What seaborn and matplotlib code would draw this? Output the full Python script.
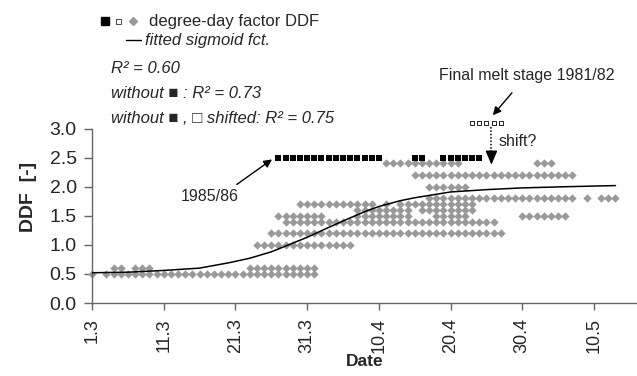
import matplotlib
matplotlib.use("Agg")
import matplotlib.pyplot as plt
import seaborn as sns
import pandas as pd
from matplotlib.lines import Line2D

# ---------------- data (day 0 = 1 March) ----------------
v05_days = [0, 2, 3, 4, 5, 6, 7, 8, 9, 10, 11, 12, 13, 14, 15, 16, 17, 18, 19, 20,
            21, 22, 23, 24, 25, 26, 27, 28, 29, 30, 31]
v06_days = [3, 4, 6, 7, 8, 22, 23, 24, 25, 26, 27, 28, 29, 30, 31]
v10_days = [23, 24, 25, 26, 27, 28, 29, 30, 31, 32, 33, 34, 35, 36]
v12_days = [25, 26, 27, 28, 29, 30, 31, 32, 33, 34, 35, 36, 37, 38, 39, 40, 41, 42,
            43, 44, 45, 46, 47, 48, 49, 50, 51, 52, 53, 54, 55, 56, 57]
v14_days = [27, 28, 29, 30, 31, 32, 33, 34, 35, 36, 37, 38, 39, 40, 41, 42, 43, 44,
            45, 46, 47, 48, 49, 50, 51, 52, 53, 54, 55, 56]
v15_days = [26, 27, 28, 29, 30, 31, 32, 37, 38, 39, 40, 41, 42, 43, 44,
            48, 49, 50, 51, 52, 60, 61, 62, 63, 64, 65, 66]
v16_days = [37, 38, 39, 40, 41, 42, 43, 44, 46, 47, 48, 49, 50, 51, 52, 53]
v17_days = [29, 30, 31, 32, 33, 34, 35, 36, 37, 38, 39, 41, 43, 44, 45, 46, 47, 48,
            49, 50, 51, 52, 53]
v18_days = [47, 48, 49, 50, 51, 52, 53, 54, 55, 56, 57, 58, 59, 60, 61, 62, 63, 64,
            65, 66, 67, 69, 71, 72, 73]
v20_days = [47, 48, 49, 50, 51, 52]
v22_days = [45, 46, 47, 48, 49, 50, 51, 52, 53, 54, 55, 56, 57, 58, 59, 60, 61, 62,
            63, 64, 65, 66, 67]
v24_days = [41, 42, 43, 44, 45, 46, 47, 48, 49, 50, 51, 62, 63, 64]

row_values = [0.5, 0.6, 1.0, 1.2, 1.4, 1.5, 1.6, 1.7, 1.8, 2.0, 2.2, 2.4]
row_days = [v05_days, v06_days, v10_days, v12_days, v14_days, v15_days, v16_days,
            v17_days, v18_days, v20_days, v22_days, v24_days]

# black squares: season 1985/86
sq8586_days = [26, 27, 28, 29, 30, 31, 32, 33, 34, 35, 36, 37, 38, 39, 40, 45, 46,
               49, 50, 51, 52, 53, 54]
sq8586_ddf = [2.5] * len(sq8586_days)

# open squares: final melt stage 1981/82
open_days = [53, 54, 55, 56, 57]
open_ddf = [3.1, 3.1, 3.1, 3.1, 3.1]

# fitted sigmoid function
curve_day = [0, 5, 10, 15, 19, 22, 25, 28, 30, 33, 35, 38, 40, 43, 45, 48, 50, 55, 60, 66, 73]
curve_ddf = [0.52, 0.53, 0.56, 0.60, 0.69, 0.77, 0.88, 1.03, 1.13, 1.30, 1.41, 1.57,
             1.66, 1.76, 1.81, 1.87, 1.91, 1.95, 1.98, 2.00, 2.02]

tick_days = [0, 10, 20, 30, 40, 50, 60, 70]
tick_labels = ["1.3", "11.3", "21.3", "31.3", "10.4", "20.4", "30.4", "10.5"]
ytick_vals = [0.0, 0.5, 1.0, 1.5, 2.0, 2.5, 3.0]

# ---------------- plotting ----------------
sns.set_style("ticks")
plt.rcParams['font.family'] = ['Liberation Sans', 'DejaVu Sans']

W, H = 637, 376
fig = plt.figure(figsize=(W / 100, H / 100), dpi=100)


def px(x, y):
    return x / W, 1 - y / H


ax = fig.add_axes([92 / W, 1 - 303 / H, (637 - 92) / W, (303 - 128.6) / H])

df = pd.DataFrame([(d, v) for v, days in zip(row_values, row_days) for d in days],
                  columns=["day", "ddf"])

sns.scatterplot(data=df, x="day", y="ddf", marker="D", s=18, color="#999999",
                linewidth=0, ax=ax, zorder=2, clip_on=False)
sns.scatterplot(x=sq8586_days, y=sq8586_ddf, marker="s", s=14, color="black",
                linewidth=0, ax=ax, zorder=3)
sns.scatterplot(x=open_days, y=open_ddf, marker="s", s=12, color="white",
                edgecolor="black", linewidth=0.6, ax=ax, zorder=4, clip_on=False)
sns.lineplot(x=curve_day, y=curve_ddf, color="black", lw=1.1, ax=ax, zorder=5)

ax.set_xlim(0, 76)
ax.set_ylim(0, 3.0)
ax.set_xticks(tick_days)
ax.set_xticklabels(tick_labels, rotation=90)
ax.set_yticks(ytick_vals)
ax.set_yticklabels([f"{v:.1f}" for v in ytick_vals])

for s in ["top", "right"]:
    ax.spines[s].set_visible(False)
for s in ["left", "bottom"]:
    ax.spines[s].set_color("#666666")
    ax.spines[s].set_linewidth(1)
ax.tick_params(axis="y", direction="out", length=6, width=1, color="#666666",
               labelsize=14, pad=5)
ax.tick_params(axis="x", direction="out", length=5, width=1, color="#666666",
               labelsize=13, pad=6)

ax.set_xlabel("Date", fontsize=12.5, fontweight="bold")
ax.set_ylabel("DDF  [-]", fontsize=14, fontweight="bold")
ax.xaxis.set_label_coords(0.5, (303 - 354) / 174.4)
ax.yaxis.set_label_coords((37 - 92) / 545, (303 - 197) / 174.4)

# ---------------- annotations ----------------
ax.text(16.4, 1.84, "1985/86", ha="center", va="center", fontsize=11.5)
ax.annotate("", xy=(25.1, 2.47), xytext=(20.2, 2.04),
            arrowprops=dict(arrowstyle="-|>", color="black", lw=1,
                            shrinkA=0, shrinkB=0, mutation_scale=12))
ax.annotate("Final melt stage 1981/82", xy=(55.9, 3.23), xytext=(60.6, 3.91),
            ha="center", va="center", fontsize=11.5, annotation_clip=False,
            arrowprops=dict(arrowstyle="-|>", color="black", lw=1,
                            shrinkA=6, shrinkB=0, mutation_scale=12))
ax.plot([55.7, 55.7], [3.03, 2.5], ls=(0, (1, 1.2)), color="black", lw=1.1,
        clip_on=False, zorder=6)
ax.annotate("", xy=(55.7, 2.38), xytext=(55.7, 2.52),
            arrowprops=dict(arrowstyle="-|>,head_length=0.7,head_width=0.3",
                            color="black", lw=1, shrinkA=0, shrinkB=0,
                            mutation_scale=12))
ax.text(56.7, 2.77, "shift?", fontsize=11.5, ha="left", va="center")

# ---------------- header / legend texts ----------------
fig.add_artist(Line2D([105 / W], [1 - 21 / H], marker="s", ms=5.2, color="black",
                      transform=fig.transFigure, lw=0))
fig.add_artist(Line2D([118 / W], [1 - 21 / H], marker="s", ms=3.6, mfc="white",
                      mec="#444444", mew=0.7, transform=fig.transFigure, lw=0))
fig.add_artist(Line2D([133 / W], [1 - 21 / H], marker="D", ms=3.6, color="#999999",
                      transform=fig.transFigure, lw=0))
fig.text(*px(149, 26), "degree-day factor DDF", fontsize=12, va="baseline")
fig.add_artist(Line2D([126 / W, 141 / W], [1 - 39.5 / H, 1 - 39.5 / H], color="black",
                      lw=1, transform=fig.transFigure))
fig.text(*px(145, 45), "fitted sigmoid fct.", fontsize=12, style="italic", va="baseline")
fig.text(*px(111, 72.7), "R² = 0.60", fontsize=12, style="italic", va="baseline")
fig.text(*px(111, 97.7), "without ■ : R² = 0.73", fontsize=12, style="italic",
         va="baseline")
fig.text(*px(111, 122.7), "without ■ , □ shifted: R² = 0.75", fontsize=12,
         style="italic", va="baseline")

fig.savefig("out.png", dpi=100)
